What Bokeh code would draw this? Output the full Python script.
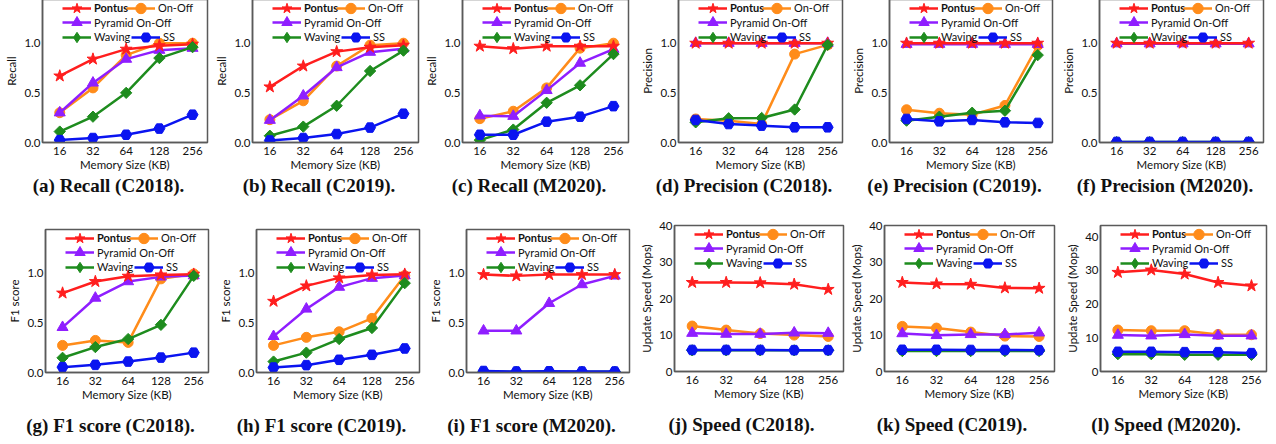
import math
from bokeh.plotting import figure
from bokeh.layouts import row, column
from bokeh.models import Range1d, FixedTicker, NumeralTickFormatter, Legend, LegendItem, Div
from bokeh.embed import file_html
from bokeh.resources import INLINE

MEMORY = ["16", "32", "64", "128", "256"]
SERIES = ["Pontus", "On-Off", "Pyramid On-Off", "Waving", "SS"]

# each panel: [Pontus, On-Off, Pyramid On-Off, Waving, SS]
RECALL_C2018 = [[0.67, 0.84, 0.94, 0.975, 0.99],
                [0.30, 0.55, 0.88, 1.00, 1.00],
                [0.30, 0.60, 0.84, 0.93, 0.95],
                [0.11, 0.26, 0.50, 0.85, 0.96],
                [0.024, 0.045, 0.078, 0.14, 0.28]]
RECALL_C2019 = [[0.56, 0.77, 0.915, 0.96, 0.98],
                [0.23, 0.42, 0.77, 0.98, 1.00],
                [0.225, 0.47, 0.756, 0.91, 0.945],
                [0.068, 0.16, 0.37, 0.72, 0.925],
                [0.02, 0.045, 0.085, 0.15, 0.29]]
RECALL_M2020 = [[0.97, 0.945, 0.97, 0.97, 0.97],
                [0.24, 0.315, 0.55, 0.95, 1.00],
                [0.27, 0.265, 0.525, 0.80, 0.94],
                [0.024, 0.13, 0.40, 0.576, 0.89],
                [0.078, 0.078, 0.21, 0.26, 0.366]]
PRECISION_C2018 = [[1.0, 1.0, 1.0, 1.0, 1.0],
                   [0.237, 0.22, 0.186, 0.89, 0.983],
                   [1.0, 1.0, 1.0, 1.0, 1.0],
                   [0.203, 0.244, 0.247, 0.332, 0.983],
                   [0.227, 0.186, 0.17, 0.153, 0.153]]
PRECISION_C2019 = [[1.0, 1.0, 1.0, 1.0, 1.0],
                   [0.33, 0.295, 0.28, 0.373, 0.976],
                   [0.99, 0.99, 0.99, 0.99, 0.99],
                   [0.22, 0.26, 0.30, 0.32, 0.88],
                   [0.237, 0.213, 0.227, 0.203, 0.197]]
PRECISION_M2020 = [[1.0, 1.0, 1.0, 1.0, 1.0],
                   [0.0, 0.0, 0.0, 0.0, 0.0],
                   [0.995, 0.995, 0.995, 0.995, 0.995],
                   [0.004, 0.004, 0.004, 0.004, 0.004],
                   [0.006, 0.006, 0.006, 0.006, 0.006]]
F1_C2018 = [[0.80, 0.916, 0.97, 0.983, 0.99],
            [0.273, 0.323, 0.303, 0.943, 0.993],
            [0.455, 0.75, 0.916, 0.963, 0.976],
            [0.148, 0.256, 0.337, 0.48, 0.973],
            [0.054, 0.077, 0.11, 0.15, 0.20]]
F1_C2019 = [[0.717, 0.872, 0.953, 0.983, 0.99],
            [0.273, 0.354, 0.41, 0.545, 0.976],
            [0.364, 0.64, 0.86, 0.95, 0.976],
            [0.11, 0.20, 0.337, 0.448, 0.90],
            [0.05, 0.074, 0.128, 0.178, 0.242]]
F1_M2020 = [[0.986, 0.973, 0.986, 0.986, 0.986],
            [0.0, 0.0, 0.0, 0.0, 0.0],
            [0.42, 0.42, 0.697, 0.886, 0.973],
            [0.008, 0.008, 0.008, 0.008, 0.008],
            [0.015, 0.01, 0.012, 0.01, 0.01]]
SPEED_C2018 = [[24.4, 24.4, 24.3, 23.9, 22.5],
               [12.45, 11.35, 10.4, 9.98, 9.6],
               [10.5, 10.25, 10.25, 10.6, 10.5],
               [5.8, 5.8, 5.8, 5.8, 5.8],
               [5.9, 5.9, 5.9, 5.85, 5.85]]
SPEED_C2019 = [[24.4, 24.0, 23.9, 22.9, 22.8],
               [12.36, 11.9, 10.8, 9.7, 9.6],
               [10.4, 9.9, 10.16, 10.16, 10.6],
               [5.6, 5.6, 5.6, 5.6, 5.6],
               [5.95, 5.95, 5.9, 5.9, 5.85]]
SPEED_M2020 = [[29.4, 30.1, 28.9, 26.4, 25.4],
               [12.3, 12.1, 12.1, 11.0, 10.9],
               [10.8, 10.6, 11.0, 10.6, 10.6],
               [5.15, 5.15, 4.95, 4.95, 4.95],
               [5.84, 5.84, 5.74, 5.74, 5.45]]

COLORS = ["#FF1E1E", "#FF8C1A", "#8F1EFF", "#1E8C1E", "#0A14F0"]
MARKERS = ["star", "circle", "triangle", "square", "hex"]
LEG_MARKERS = ["star", "circle", "triangle", "diamond", "hex"]
SIZES = [12.5, 10, 11, 8, 11]
ANGLES = [0, 0, 0, math.pi / 4, 0]
DRAW_ORDER = [1, 2, 0, 3, 4]

SANS = "Lato"
AX = "#5a5a5a"
NAN = float("nan")


def panel(data, ylabel, y_end, yticks, yfmt, fw, fh, left, right, top, bottom):
    p = figure(frame_width=fw, frame_height=fh, min_border_left=left, min_border_right=right,
               min_border_top=top, min_border_bottom=bottom,
               x_range=Range1d(-0.52, 4.45), y_range=Range1d(0, y_end),
               output_backend="svg", toolbar_location=None)
    p.grid.visible = False
    p.border_fill_alpha = 0
    p.outline_line_color = AX
    p.outline_line_width = 1.5
    xs = list(range(len(MEMORY)))
    lines, dots = {}, {}
    for i in DRAW_ORDER:
        lines[i] = p.line(xs, data[i], line_color=COLORS[i], line_width=2.5)
        p.scatter(xs, data[i], marker=MARKERS[i], size=SIZES[i], angle=ANGLES[i],
                  fill_color=COLORS[i], line_color=COLORS[i])
        # legend swatch marker (one undefined point, nothing drawn in the plot)
        dots[i] = p.scatter(x=[NAN], y=[NAN], marker=LEG_MARKERS[i], size=SIZES[i],
                            fill_color=COLORS[i], line_color=COLORS[i])
    for ax in (p.xaxis[0], p.yaxis[0]):
        ax.axis_line_color = AX
        ax.axis_line_width = 1.5
        ax.major_tick_out = 0
        ax.major_tick_in = 0
        ax.minor_tick_out = 0
        ax.minor_tick_in = 0
        ax.major_label_text_font = SANS
        ax.major_label_text_font_size = "11.5px"
        ax.major_label_text_color = "#111111"
        ax.axis_label_text_font = SANS
        ax.axis_label_text_font_size = "11.5px"
        ax.axis_label_text_font_style = "normal"
        ax.axis_label_text_color = "#111111"
    p.xaxis.ticker = FixedTicker(ticks=xs)
    p.xaxis.major_label_overrides = {i: m for i, m in enumerate(MEMORY)}
    p.xaxis.axis_label = "Memory Size (KB)"
    p.xaxis.major_label_standoff = 4
    p.xaxis.axis_label_standoff = 0
    p.yaxis.ticker = FixedTicker(ticks=yticks)
    p.yaxis.formatter = NumeralTickFormatter(format=yfmt)
    p.yaxis.axis_label = ylabel
    p.yaxis.major_label_standoff = 2
    p.yaxis.axis_label_standoff = 3

    # legend, 3 rows; location y is the legend's bottom edge above the frame bottom
    row_c = [8.5, 23.0, 37.5]
    gh = 26
    spec = [(0, 20, 0, "bold"), (1, 84, 0, "normal"), (2, 20, 1, "normal"),
            (3, 20, 2, "normal"), (4, 89, 2, "normal")]
    for idx, xoff, r, style in spec:
        leg = Legend(items=[LegendItem(label=SERIES[idx], renderers=[lines[idx], dots[idx]])],
                     location=(xoff, fh - (row_c[r] + gh / 2)),
                     glyph_width=29, glyph_height=gh, label_standoff=3, padding=0, margin=0,
                     spacing=0, border_line_color=None, background_fill_alpha=0,
                     label_text_font=SANS, label_text_font_size="11px",
                     label_text_font_style=style, label_text_color="#111111")
        p.add_layout(leg)
    return p


def caption(text, left, fw, right, mtop):
    fig_w = left + fw + right
    shift = (left + fw / 2 - 16) - fig_w / 2
    html = ('<div style="position:relative;left:%.1fpx;width:%dpx;text-align:center;'
            'white-space:nowrap;font-family:\'Liberation Serif\';font-weight:bold;'
            'font-size:19px;line-height:20px;color:#111111">%s</div>' % (shift, fig_w, text))
    return Div(text=html, width=fig_w, height=20, margin=(mtop, 0, 0, 0))


R01 = [0, 0.5, 1.0]
SPD = [0, 10, 20, 30, 40]

top_specs = [
    (RECALL_C2018, "(a) Recall (C2018).", "Recall", 165, 5),
    (RECALL_C2019, "(b) Recall (C2019).", "Recall", 166, 4),
    (RECALL_M2020, "(c) Recall (M2020).", "Recall", 166, 10),
    (PRECISION_C2018, "(d) Precision (C2018).", "Precision", 164, 7),
    (PRECISION_C2019, "(e) Precision (C2019).", "Precision", 163, 7),
    (PRECISION_M2020, "(f) Precision (M2020).", "Precision", 164, 4),
]
top_cols = []
for d, cap, yl, fw, rb in top_specs:
    f = panel(d, yl, 1.44, R01, "0.0", fw, 143, 40, rb, 0, 34)
    top_cols.append(column(f, caption(cap, 40, fw, rb, 0)))

bot_specs = [
    (F1_C2018, "(g) F1 score (C2018).", "F1 score", 1.44, R01, "0.0", 163, 143, 40, 8, 33),
    (F1_C2019, "(h) F1 score (C2019).", "F1 score", 1.44, R01, "0.0", 163, 143, 40, 7, 33),
    (F1_M2020, "(i) F1 score (M2020).", "F1 score", 1.44, R01, "0.0", 163, 143, 40, 8, 33),
    (SPEED_C2018, "(j) Speed (C2018).", "Update Speed (Mops)", 40, SPD, "0", 169, 146, 36, 4, 29),
    (SPEED_C2019, "(k) Speed (C2019).", "Update Speed (Mops)", 40, SPD, "0", 170, 146, 36, 9, 29),
    (SPEED_M2020, "(l) Speed (M2020).", "Update Speed (Mops)", 43.3, SPD, "0", 166, 146, 36, 5, 29),
]
bot_cols = []
for d, cap, yl, ye, yt, yf, fw, fh, lb, rb, tb in bot_specs:
    f = panel(d, yl, ye, yt, yf, fw, fh, lb, rb, tb, 34)
    bot_cols.append(column(f, caption(cap, lb, fw, rb, 10)))

layout = column(row(*top_cols, margin=(-1, 0, 0, 2)), row(*bot_cols, margin=(0, 0, 0, 5)))
open("out.html", "w").write(file_html(layout, INLINE))
